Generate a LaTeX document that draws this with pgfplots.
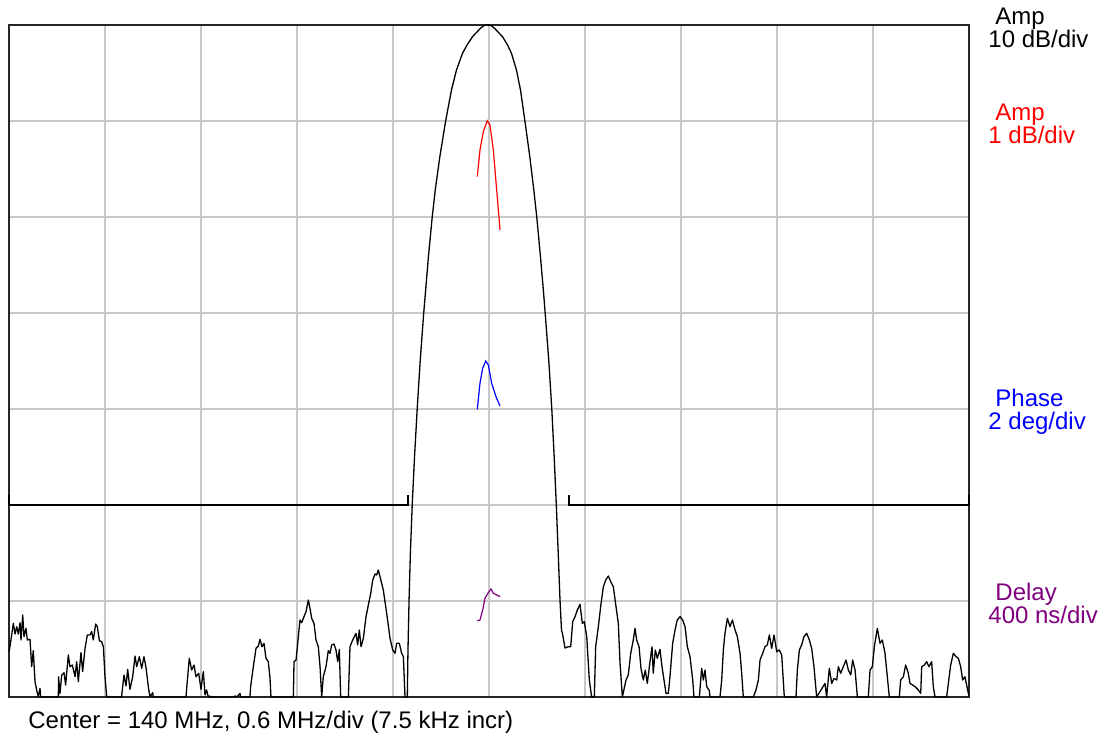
\documentclass[border=0pt]{standalone}
\usepackage{pgfplots}
\pgfplotsset{compat=1.18}
\usepackage{fontspec}
\setmainfont{Liberation Sans}
\definecolor{trpurple}{RGB}{128,0,128}
\definecolor{gridgray}{RGB}{200,200,200}
\tikzset{scalelbl/.style={anchor=west, inner sep=0pt, align=left,
  font=\fontsize{12}{11.5}\selectfont}}

% screen grid: 10 x 7 divisions, 0.6 MHz/div, 10 dB/div for the main trace
\pgfplotstableread{
x y
0.000 0.472
0.010 0.524
0.045 0.767
0.063 0.656
0.080 0.733
0.097 0.656
0.115 0.774
0.125 0.594
0.143 0.854
0.156 0.628
0.177 0.715
0.191 0.594
0.219 0.601
0.236 0.316
0.253 0.483
0.271 0.160
0.288 0.073
0.305 0.003
0.323 0.090
0.330 0.000
0.514 0.000
0.516 0.211
0.531 0.038
0.549 0.229
0.573 0.253
0.590 0.125
0.618 0.438
0.635 0.316
0.660 0.333
0.688 0.211
0.705 0.368
0.722 0.160
0.750 0.462
0.767 0.264
0.792 0.507
0.816 0.646
0.844 0.646
0.861 0.681
0.878 0.594
0.903 0.760
0.920 0.733
0.941 0.587
0.965 0.576
0.983 0.524
1.000 0.211
1.018 0.000
1.174 0.000
1.176 0.038
1.198 0.229
1.219 0.115
1.236 0.288
1.260 0.080
1.288 0.211
1.313 0.427
1.330 0.316
1.358 0.420
1.382 0.299
1.406 0.420
1.427 0.309
1.451 0.108
1.469 0.000
1.497 0.045
1.503 0.000
1.844 0.000
1.851 0.090
1.878 0.403
1.903 0.281
1.927 0.333
1.948 0.211
1.976 0.247
2.000 0.080
2.024 0.264
2.042 0.021
2.059 0.073
2.076 0.000
2.094 0.010
2.104 0.000
2.337 0.000
2.354 0.010
2.378 0.003
2.406 0.038
2.413 0.000
2.510 0.000
2.517 0.108
2.545 0.316
2.573 0.507
2.597 0.531
2.615 0.601
2.635 0.524
2.656 0.559
2.677 0.403
2.701 0.368
2.719 0.194
2.729 0.000
2.962 0.000
2.969 0.368
2.990 0.385
3.014 0.628
3.031 0.802
3.049 0.774
3.073 0.837
3.094 0.889
3.118 1.010
3.135 0.924
3.153 0.819
3.177 0.767
3.198 0.594
3.222 0.524
3.240 0.316
3.257 0.000
3.274 0.211
3.302 0.316
3.326 0.483
3.344 0.455
3.361 0.542
3.385 0.552
3.406 0.490
3.424 0.368
3.441 0.497
3.455 0.000
3.535 0.000
3.552 0.524
3.580 0.594
3.597 0.628
3.615 0.663
3.632 0.542
3.649 0.698
3.667 0.524
3.691 0.611
3.719 0.837
3.743 0.958
3.768 1.080
3.789 1.219
3.813 1.281
3.830 1.271
3.847 1.323
3.865 1.253
3.882 1.184
3.899 1.115
3.934 0.872
3.969 0.611
3.997 0.490
4.021 0.455
4.038 0.559
4.066 0.559
4.090 0.455
4.108 0.420
4.125 0.000
4.149 0.000
4.156 0.490
4.167 1.000
4.181 1.500
4.200 2.000
4.224 2.500
4.252 3.000
4.283 3.500
4.320 4.000
4.340 4.240
4.369 4.586
4.408 4.995
4.440 5.281
4.488 5.628
4.547 5.993
4.609 6.323
4.661 6.531
4.724 6.705
4.771 6.792
4.828 6.878
4.911 6.966
4.948 6.995
4.982 7.000
5.021 6.995
5.057 6.966
5.141 6.878
5.193 6.792
5.234 6.705
5.286 6.531
5.328 6.323
5.375 5.993
5.425 5.628
5.467 5.281
5.498 4.995
5.536 4.586
5.566 4.240
5.585 4.000
5.623 3.500
5.654 3.000
5.679 2.500
5.701 2.000
5.721 1.500
5.740 1.000
5.755 0.698
5.764 0.667
5.792 0.510
5.826 0.524
5.851 0.524
5.872 0.785
5.896 0.837
5.920 0.906
5.948 0.966
5.972 0.767
5.993 0.785
6.018 0.628
6.045 0.177
6.069 0.000
6.097 0.000
6.111 0.524
6.139 0.733
6.163 0.941
6.191 1.149
6.216 1.219
6.243 1.260
6.268 1.201
6.295 1.149
6.323 0.941
6.347 0.767
6.365 0.351
6.389 0.000
6.427 0.177
6.451 0.229
6.476 0.455
6.503 0.594
6.521 0.715
6.538 0.594
6.563 0.524
6.583 0.299
6.607 0.177
6.628 0.281
6.649 0.142
6.677 0.368
6.698 0.524
6.711 0.247
6.732 0.490
6.753 0.403
6.781 0.497
6.802 0.316
6.823 0.177
6.844 0.038
6.868 0.038
6.885 0.211
6.913 0.559
6.938 0.698
6.961 0.802
6.990 0.837
7.017 0.802
7.042 0.733
7.066 0.524
7.094 0.420
7.122 0.177
7.135 0.000
7.191 0.000
7.215 0.299
7.233 0.177
7.250 0.281
7.268 0.108
7.295 0.066
7.302 0.000
7.406 0.000
7.424 0.177
7.441 0.490
7.458 0.663
7.483 0.819
7.510 0.733
7.535 0.802
7.563 0.698
7.587 0.628
7.615 0.455
7.632 0.247
7.649 0.000
7.753 0.000
7.781 0.073
7.806 0.177
7.823 0.385
7.851 0.455
7.875 0.524
7.899 0.542
7.920 0.646
7.945 0.507
7.969 0.646
7.997 0.472
8.024 0.490
8.049 0.438
8.076 0.000
8.198 0.000
8.212 0.281
8.233 0.490
8.257 0.542
8.281 0.628
8.309 0.663
8.337 0.594
8.361 0.507
8.385 0.316
8.413 0.000
8.500 0.142
8.517 0.000
8.545 0.299
8.570 0.142
8.594 0.194
8.622 0.177
8.639 0.316
8.663 0.247
8.691 0.316
8.719 0.385
8.743 0.281
8.768 0.229
8.788 0.385
8.813 0.281
8.837 0.000
8.951 0.000
8.969 0.281
8.993 0.316
9.014 0.524
9.045 0.715
9.073 0.559
9.097 0.594
9.125 0.455
9.149 0.211
9.170 0.000
9.274 0.000
9.288 0.177
9.316 0.211
9.340 0.333
9.368 0.247
9.385 0.142
9.413 0.125
9.438 0.108
9.472 0.073
9.497 0.038
9.507 0.316
9.535 0.333
9.559 0.368
9.583 0.316
9.611 0.368
9.628 0.108
9.646 0.000
9.767 0.000
9.785 0.142
9.809 0.333
9.837 0.455
9.865 0.420
9.889 0.403
9.913 0.316
9.934 0.177
9.958 0.211
9.993 0.038
10.000 0.020
}\amptrace

\begin{document}
\begin{tikzpicture}
\useasboundingbox (-4.5pt,-21pt) rectangle (546pt,348.5pt);
\begin{axis}[
    at={(0,0)}, anchor=south west,
    scale only axis,
    width=480pt, height=336pt,
    xmin=0, xmax=10, ymin=0, ymax=7,
    xtick={0,1,...,10}, ytick={0,1,...,7},
    xticklabels={}, yticklabels={},
    major tick length=0pt,
    grid=major,
    grid style={draw=gridgray, line width=0.75pt},
    axis line style={draw=black!85, line width=0.6pt},
    clip=false,
    font=\fontsize{12}{14}\selectfont,
]
  % main amplitude trace
  \addplot[black, line width=0.65pt, line join=round] table {\amptrace};

  % mask
  \addplot[black, line width=0.6pt] coordinates {
    (0,2.104) (0,2) (4.156,2) (4.156,2.104)
  };
  \addplot[black, line width=0.6pt] coordinates {
    (5.833,2.104) (5.833,2) (10,2) (10,2.104)
  };

  % passband zoom traces
  \addplot[red, line width=0.6pt] coordinates {
    (4.878,5.420) (4.906,5.698) (4.941,5.889) (4.982,6.003)
    (5.010,5.958) (5.045,5.698) (5.080,5.281) (5.115,4.865)
  };
  \addplot[blue, line width=0.6pt] coordinates {
    (4.878,2.997) (4.906,3.268) (4.934,3.424) (4.966,3.500)
    (4.993,3.458) (5.028,3.268) (5.073,3.128) (5.115,3.031)
  };
  \addplot[trpurple, line width=0.6pt] coordinates {
    (4.878,0.795) (4.906,0.802) (4.934,0.906) (4.958,1.028) (4.990,1.083)
    (5.021,1.125) (5.045,1.080) (5.073,1.066) (5.115,1.045)
  };

  % scale labels
  \node[scalelbl] at (axis cs:10.198,6.966)
    {\hspace*{3.5pt}Amp\\10 dB/div};
  \node[scalelbl, text=red] at (axis cs:10.198,5.971)
    {\hspace*{3.5pt}Amp\\1 dB/div};
  \node[scalelbl, text=blue] at (axis cs:10.198,2.971)
    {\hspace*{3.5pt}Phase\\2 deg/div};
  \node[scalelbl, text=trpurple] at (axis cs:10.198,0.971)
    {\hspace*{3.5pt}Delay\\400 ns/div};
  \node[anchor=west, inner sep=0pt] at (axis cs:0.198,-0.260)
    {Center = 140 MHz, 0.6 MHz/div (7.5 kHz incr)};
\end{axis}
\end{tikzpicture}
\end{document}
